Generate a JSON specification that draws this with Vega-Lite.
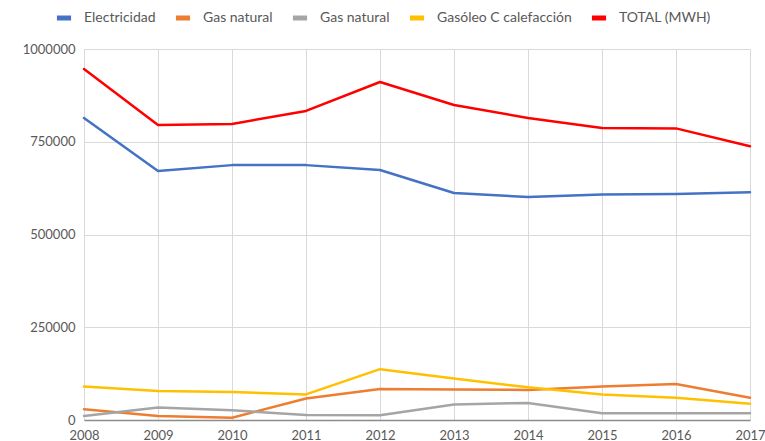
{
  "$schema": "https://vega.github.io/schema/vega-lite/v6.json",
  "width": 666,
  "height": 371,
  "autosize": "none",
  "padding": {"left": 84, "top": 49, "right": 15, "bottom": 21},
  "background": "white",
  "config": {
    "font": "Lato",
    "view": {"stroke": null},
    "axis": {"labelFont": "Lato", "labelFontSize": 13, "labelColor": "#595959", "gridColor": "#d9d9d9", "gridWidth": 1, "ticks": false, "title": null}
  },
  "data": {
    "values": [
      {"year": "2008", "series": "Electricidad", "value": 814000},
      {"year": "2009", "series": "Electricidad", "value": 671000},
      {"year": "2010", "series": "Electricidad", "value": 687000},
      {"year": "2011", "series": "Electricidad", "value": 687000},
      {"year": "2012", "series": "Electricidad", "value": 674000},
      {"year": "2013", "series": "Electricidad", "value": 612000},
      {"year": "2014", "series": "Electricidad", "value": 601000},
      {"year": "2015", "series": "Electricidad", "value": 608000},
      {"year": "2016", "series": "Electricidad", "value": 609000},
      {"year": "2017", "series": "Electricidad", "value": 614000},
      {"year": "2008", "series": "Gas natural", "value": 29000},
      {"year": "2009", "series": "Gas natural", "value": 11000},
      {"year": "2010", "series": "Gas natural", "value": 6000},
      {"year": "2011", "series": "Gas natural", "value": 58000},
      {"year": "2012", "series": "Gas natural", "value": 83500},
      {"year": "2013", "series": "Gas natural", "value": 82000},
      {"year": "2014", "series": "Gas natural", "value": 81000},
      {"year": "2015", "series": "Gas natural", "value": 90000},
      {"year": "2016", "series": "Gas natural", "value": 97000},
      {"year": "2017", "series": "Gas natural", "value": 60000},
      {"year": "2008", "series": "Gas natural 2", "value": 11000},
      {"year": "2009", "series": "Gas natural 2", "value": 34000},
      {"year": "2010", "series": "Gas natural 2", "value": 26000},
      {"year": "2011", "series": "Gas natural 2", "value": 13500},
      {"year": "2012", "series": "Gas natural 2", "value": 12700},
      {"year": "2013", "series": "Gas natural 2", "value": 42000},
      {"year": "2014", "series": "Gas natural 2", "value": 46000},
      {"year": "2015", "series": "Gas natural 2", "value": 18000},
      {"year": "2016", "series": "Gas natural 2", "value": 18000},
      {"year": "2017", "series": "Gas natural 2", "value": 18000},
      {"year": "2008", "series": "Gasóleo C calefacción", "value": 90000},
      {"year": "2009", "series": "Gasóleo C calefacción", "value": 78000},
      {"year": "2010", "series": "Gasóleo C calefacción", "value": 75500},
      {"year": "2011", "series": "Gasóleo C calefacción", "value": 69000},
      {"year": "2012", "series": "Gasóleo C calefacción", "value": 137000},
      {"year": "2013", "series": "Gasóleo C calefacción", "value": 112000},
      {"year": "2014", "series": "Gasóleo C calefacción", "value": 88000},
      {"year": "2015", "series": "Gasóleo C calefacción", "value": 69000},
      {"year": "2016", "series": "Gasóleo C calefacción", "value": 60000},
      {"year": "2017", "series": "Gasóleo C calefacción", "value": 44000},
      {"year": "2008", "series": "TOTAL (MWH)", "value": 946000},
      {"year": "2009", "series": "TOTAL (MWH)", "value": 795000},
      {"year": "2010", "series": "TOTAL (MWH)", "value": 798000},
      {"year": "2011", "series": "TOTAL (MWH)", "value": 833000},
      {"year": "2012", "series": "TOTAL (MWH)", "value": 911000},
      {"year": "2013", "series": "TOTAL (MWH)", "value": 849000},
      {"year": "2014", "series": "TOTAL (MWH)", "value": 814000},
      {"year": "2015", "series": "TOTAL (MWH)", "value": 787000},
      {"year": "2016", "series": "TOTAL (MWH)", "value": 786000},
      {"year": "2017", "series": "TOTAL (MWH)", "value": 738000}
    ]
  },
  "mark": {"type": "line", "strokeWidth": 2.5, "strokeCap": "round", "strokeJoin": "round", "clip": false},
  "encoding": {
    "x": {
      "field": "year", "type": "ordinal",
      "scale": {"type": "point", "padding": 0},
      "axis": {"labelAngle": 0, "grid": true, "domain": true, "domainColor": "#8c8c8c", "domainWidth": 1.5, "labelPadding": 9, "labelOverlap": false, "labelBound": false}
    },
    "y": {
      "field": "value", "type": "quantitative",
      "scale": {"domain": [0, 1000000], "nice": false},
      "axis": {"values": [0, 250000, 500000, 750000, 1000000], "format": "d", "domain": false, "labelPadding": 9}
    },
    "color": {
      "field": "series", "type": "nominal",
      "scale": {
        "domain": ["Electricidad", "Gas natural", "Gas natural 2", "Gasóleo C calefacción", "TOTAL (MWH)"],
        "range": ["#4472C4", "#ED7D31", "#A5A5A5", "#FFC000", "#FF0000"]
      },
      "legend": {
        "title": null,
        "orient": "none",
        "direction": "horizontal",
        "legendX": -30,
        "legendY": -41,
        "labelExpr": "datum.label == 'Gas natural 2' ? 'Gas natural' : datum.label",
        "labelFont": "Lato",
        "labelFontSize": 14,
        "labelColor": "#595959",
        "symbolType": "stroke",
        "symbolSize": 200,
        "symbolStrokeWidth": 5,
        "labelOffset": 10,
        "columnPadding": 9
      }
    },
    "order": {"field": "series"}
  }
}
